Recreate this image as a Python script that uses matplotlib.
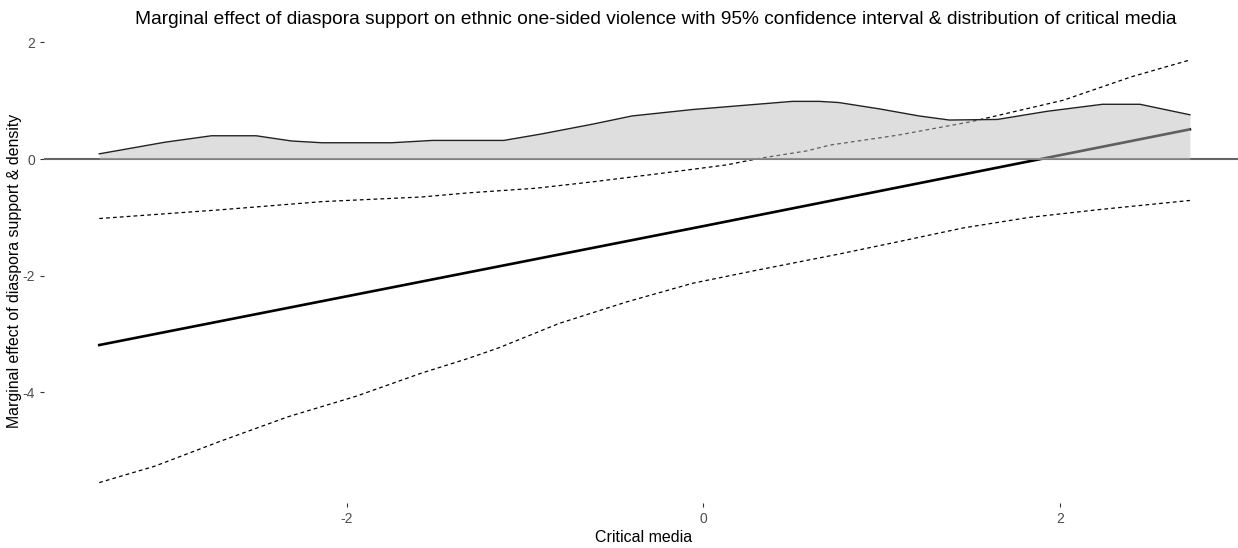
import numpy as np
import matplotlib
matplotlib.use("Agg")
from matplotlib import pyplot as plt

plt.rcParams['font.family'] = ['Liberation Sans', 'DejaVu Sans']
plt.rcParams['axes.unicode_minus'] = False

# marginal effect (straight line)
me_x = [-3.39, 0.0, 2.73]
me_y = [-3.19, -1.15, 0.51]

# upper 95% bound
up_x = [-3.39, -2.71, -2.14, -1.58, -1.32, -0.94, -0.62, -0.25, 0.13, 0.31,
        0.58, 0.71, 1.09, 1.50, 2.02, 2.40, 2.73]
up_y = [-1.02, -0.87, -0.73, -0.65, -0.58, -0.50, -0.39, -0.25, -0.10, 0.01,
        0.14, 0.24, 0.41, 0.64, 1.01, 1.41, 1.70]

# lower 95% bound
lo_x = [-3.39, -3.08, -2.71, -2.33, -1.95, -1.58, -1.32, -1.15, -0.81, -0.43,
        -0.06, 0.31, 0.76, 1.09, 1.46, 1.83, 2.21, 2.73]
lo_y = [-5.55, -5.27, -4.84, -4.42, -4.07, -3.67, -3.42, -3.24, -2.82, -2.45,
        -2.13, -1.90, -1.63, -1.42, -1.18, -1.00, -0.87, -0.71]

# density of critical media
dens_x = [-3.39, -3.02, -2.76, -2.51, -2.31, -2.14, -1.75, -1.52, -1.32, -1.12,
          -0.91, -0.62, -0.40, -0.06, 0.22, 0.50, 0.65, 0.76, 0.99, 1.21,
          1.38, 1.65, 1.93, 2.24, 2.45, 2.73]
dens_y = [0.09, 0.29, 0.40, 0.40, 0.31, 0.28, 0.28, 0.32, 0.32, 0.32,
          0.43, 0.60, 0.74, 0.85, 0.92, 0.99, 0.99, 0.97, 0.86, 0.74,
          0.67, 0.68, 0.82, 0.94, 0.94, 0.76]

x_ticks = [-2, 0, 2]
y_ticks = [-4, -2, 0, 2]

fig = plt.figure(figsize=(12.38, 5.48), dpi=100)
ax = fig.add_axes([44 / 1238, 45 / 548, 1 - 44 / 1238, 464 / 548])

ax.plot(me_x, me_y, color='black', lw=1.9, zorder=2)
ax.plot(up_x, up_y, color='black', lw=0.9, ls=(0, (3, 2.5)), zorder=2)
ax.plot(lo_x, lo_y, color='black', lw=0.9, ls=(0, (3, 2.5)), zorder=2)
ax.axhline(0, color='#666666', lw=1.5, zorder=3)
ax.fill_between(dens_x, 0, dens_y, color='#bebebe', alpha=0.5, lw=0, zorder=4)
ax.plot(dens_x, dens_y, color='#222222', lw=1.0, zorder=5)

ax.set_xlim(-3.70, 3.00)
ax.set_ylim(-5.90, 2.06)
ax.set_xticks(x_ticks)
ax.set_yticks(y_ticks)
ax.tick_params(colors='#333333', labelcolor='#4d4d4d', labelsize=10, length=3, width=0.8)
for s in ax.spines.values():
    s.set_visible(False)

fig.text(656 / 1238, 1 - 20 / 548,
         "Marginal effect of diaspora support on ethnic one-sided violence with 95% confidence interval & distribution of critical media",
         ha='center', va='center', fontsize=13.8)
fig.text(644 / 1238, 1 - 537 / 548, "Critical media", ha='center', va='center', fontsize=11.5)
fig.text(15 / 1238, 1 - 271 / 548, "Marginal effect of diaspora support & density",
         ha='center', va='center', rotation=90, fontsize=11.4)

fig.savefig('out.png', dpi=100)
